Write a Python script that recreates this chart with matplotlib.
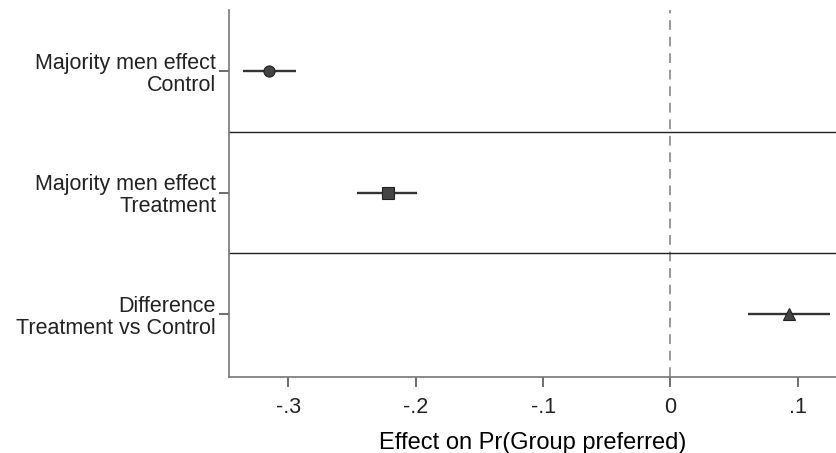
import matplotlib
matplotlib.use("Agg")
import matplotlib.pyplot as plt

plt.rcParams['font.family'] = ['Liberation Sans', 'DejaVu Sans']

labels = ["Majority men effect\nControl",
          "Majority men effect\nTreatment",
          "Difference\nTreatment vs Control"]
estimates = [-0.315, -0.222, 0.093]
ci_low = [-0.336, -0.246, 0.061]
ci_high = [-0.294, -0.199, 0.125]
markers = ["o", "s", "^"]
xticks = [-0.3, -0.2, -0.1, 0.0, 0.1]
xticklabels = ["-.3", "-.2", "-.1", "0", ".1"]

fig = plt.figure(figsize=(8.36, 4.53), dpi=100)
ax = fig.add_axes([228.5 / 836, 1 - 377 / 453, 1 - 228.5 / 836, (377 - 10) / 453])

ypos = [1, 2, 3]
ax.axvline(0, color="#999999", lw=1.4, ls=(0, (5, 3.5)), zorder=1)
for sep in [1.5, 2.5]:
    ax.axhline(sep, color="#222222", lw=1.0, zorder=1)

for y, est, lo, hi, m in zip(ypos, estimates, ci_low, ci_high, markers):
    ax.plot([lo, hi], [y, y], color="#333333", lw=1.7, zorder=2, solid_capstyle="butt")
    ms = 8 if m != "^" else 9
    ax.plot(est, y, marker=m, ms=ms, mfc="#444444", mec="#222222", mew=0.8, ls="none", zorder=3)

ax.set_xlim(-0.347, 0.13)
ax.set_ylim(3.518, 0.498)
ax.set_yticks(ypos)
ax.set_yticklabels(labels, fontsize=15.5, ha="right", multialignment="right", linespacing=1.08)
ax.set_xticks(xticks)
ax.set_xticklabels(xticklabels, fontsize=15.5)
ax.set_xlabel("Effect on Pr(Group preferred)", fontsize=17, labelpad=10)

for s in ["top", "right"]:
    ax.spines[s].set_visible(False)
for s in ["left", "bottom"]:
    ax.spines[s].set_color("#777777")
    ax.spines[s].set_linewidth(1.2)
ax.tick_params(axis="x", length=7.5, width=1.2, color="#555555", pad=7, labelcolor="#222222")
ax.tick_params(axis="y", length=7, width=1.2, color="#555555", pad=2, labelcolor="#222222")

fig.savefig("out.png", dpi=100)
